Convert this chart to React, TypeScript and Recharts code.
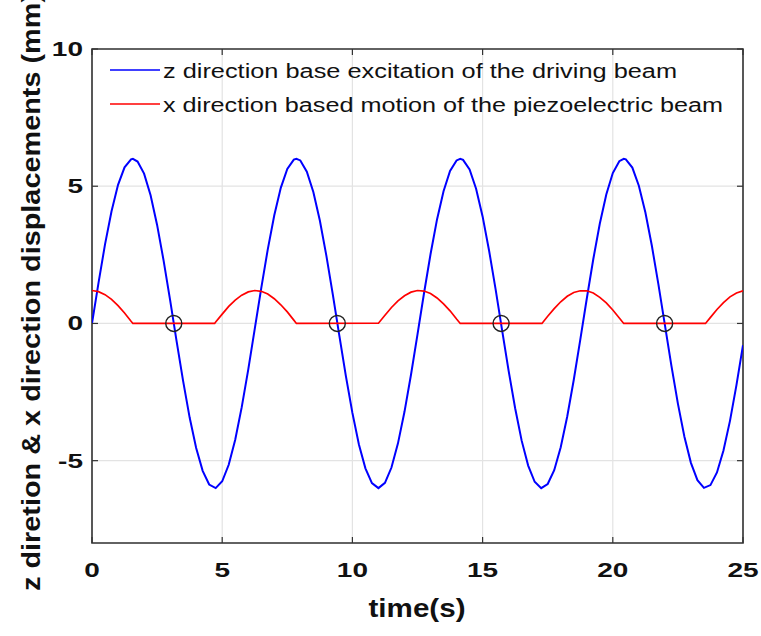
import React from 'react';
import { ComposedChart, Line, Scatter, XAxis, YAxis, CartesianGrid, ReferenceArea } from 'recharts';

const blueTime = [0, 0.25, 0.5, 0.75, 1, 1.25, 1.5, 1.57, 1.75, 2, 2.25, 2.5, 2.75, 3, 3.25, 3.5, 3.75, 4, 4.25, 4.5, 4.75, 5, 5.25, 5.5, 5.75, 6, 6.25, 6.5, 6.75, 7, 7.25, 7.5, 7.75, 7.85, 8, 8.25, 8.5, 8.75, 9, 9.25, 9.5, 9.75, 10, 10.25, 10.5, 10.75, 11, 11.25, 11.5, 11.75, 12, 12.25, 12.5, 12.75, 13, 13.25, 13.5, 13.75, 14, 14.14, 14.25, 14.5, 14.75, 15, 15.25, 15.5, 15.75, 16, 16.25, 16.5, 16.75, 17, 17.25, 17.5, 17.75, 18, 18.25, 18.5, 18.75, 19, 19.25, 19.5, 19.75, 20, 20.25, 20.42, 20.5, 20.75, 21, 21.25, 21.5, 21.75, 22, 22.25, 22.5, 22.75, 23, 23.25, 23.5, 23.75, 24, 24.25, 24.5, 24.75, 25];
const blueValues = [0, 1.48, 2.88, 4.09, 5.05, 5.69, 5.98, 6.0, 5.9, 5.46, 4.67, 3.59, 2.29, 0.85, -0.65, -2.1, -3.43, -4.54, -5.37, -5.87, -6.0, -5.75, -5.15, -4.24, -3.05, -1.68, -0.2, 1.29, 2.7, 3.94, 4.94, 5.63, 5.97, 6.0, 5.94, 5.53, 4.79, 3.75, 2.47, 1.04, -0.45, -1.92, -3.26, -4.41, -5.28, -5.82, -6.0, -5.81, -5.25, -4.37, -3.22, -1.87, -0.4, 1.1, 2.52, 3.79, 4.82, 5.56, 5.94, 6.0, 5.96, 5.61, 4.91, 3.9, 2.65, 1.24, -0.25, -1.73, -3.09, -4.27, -5.18, -5.77, -6.0, -5.85, -5.35, -4.51, -3.39, -2.06, -0.6, 0.9, 2.34, 3.63, 4.7, 5.48, 5.91, 6.0, 5.98, 5.68, 5.02, 4.05, 2.83, 1.43, -0.05, -1.54, -2.92, -4.13, -5.08, -5.71, -5.99, -5.89, -5.43, -4.63, -3.55, -2.24, -0.79];

const redTime = [0, 0.25, 0.5, 0.75, 1, 1.25, 1.5, 1.57, 4.71, 4.75, 5, 5.25, 5.5, 5.75, 6, 6.25, 6.5, 6.75, 7, 7.25, 7.5, 7.75, 7.85, 11, 11.25, 11.5, 11.75, 12, 12.25, 12.5, 12.75, 13, 13.25, 13.5, 13.75, 14, 14.14, 17.28, 17.5, 17.75, 18, 18.25, 18.5, 18.75, 19, 19.25, 19.5, 19.75, 20, 20.25, 20.42, 23.56, 23.75, 24, 24.25, 24.5, 24.75, 25];
const redValues = [1.2, 1.16, 1.05, 0.88, 0.65, 0.38, 0.08, 0, 0, 0.05, 0.34, 0.62, 0.85, 1.03, 1.15, 1.2, 1.17, 1.07, 0.9, 0.68, 0.42, 0.12, 0, 0.01, 0.3, 0.58, 0.82, 1.01, 1.14, 1.2, 1.18, 1.09, 0.93, 0.71, 0.46, 0.16, 0, 0, 0.26, 0.54, 0.79, 0.99, 1.13, 1.19, 1.19, 1.11, 0.95, 0.75, 0.49, 0.2, 0, 0, 0.22, 0.51, 0.76, 0.97, 1.11, 1.19];

const markerTime = [3.14, 9.42, 15.71, 21.99];
const markerValues = [0, 0, 0, 0];

const xTicks = [0, 5, 10, 15, 20, 25];
const yTicks = [-5, 0, 5, 10];
const seriesNames = [
  'z direction base excitation of the driving beam',
  'x direction based motion of the piezoelectric beam',
];
const seriesColors = ['#0000ff', '#ff0000'];
const xLabel = 'time(s)';
const yLabel = 'z diretion & x direction displacements (mm)';

const blueData = blueTime.map((t, i) => ({ t, v: blueValues[i] }));
const redData = redTime.map((t, i) => ({ t, v: redValues[i] }));
const markerData = markerTime.map((t, i) => ({ t, v: markerValues[i] }));

const W = 761;
const H = 636;
const MARGIN = { top: 49, right: 18, left: 0, bottom: 0 };
const YW = 92;
const XH = 93;
const PLOT_W = W - MARGIN.left - MARGIN.right - YW;
const PLOT_H = H - MARGIN.top - MARGIN.bottom - XH;
const FONT = '"Liberation Sans", Arial, sans-serif';
const FRAME = '#333333';

const XTick = (props: any) => {
  const { x, y, payload } = props;
  return (
    <g>
      <line x1={x} x2={x} y1={y} y2={y - 6} stroke={FRAME} strokeWidth={1.2} />
      <line x1={x} x2={x} y1={y - PLOT_H} y2={y - PLOT_H + 6} stroke={FRAME} strokeWidth={1.2} />
      <text
        transform={`translate(${x},${y + 34}) scale(1.4,1)`}
        textAnchor="middle"
        fontFamily={FONT}
        fontWeight="bold"
        fontSize={20}
        fill="#111"
      >
        {payload.value}
      </text>
    </g>
  );
};

const YTick = (props: any) => {
  const { x, y, payload } = props;
  return (
    <g>
      <line x1={x} x2={x + 6} y1={y} y2={y} stroke={FRAME} strokeWidth={1.2} />
      <line x1={x + PLOT_W} x2={x + PLOT_W - 6} y1={y} y2={y} stroke={FRAME} strokeWidth={1.2} />
      <text
        transform={`translate(${x - 9},${y + 7}) scale(1.4,1)`}
        textAnchor="end"
        fontFamily={FONT}
        fontWeight="bold"
        fontSize={20}
        fill="#111"
      >
        {payload.value}
      </text>
    </g>
  );
};

const Marker = (props: any) => {
  const { cx, cy } = props;
  return <circle cx={cx} cy={cy} r={8} fill="none" stroke="#222" strokeWidth={1.4} />;
};

export default function App() {
  return (
    <div style={{ position: 'absolute', left: 0, top: 0, width: W, height: H, background: '#fff' }}>
      <ComposedChart width={W} height={H} margin={MARGIN}>
        <CartesianGrid stroke="#e3e3e3" strokeWidth={1.2} />
        <XAxis
          dataKey="t"
          type="number"
          domain={[0, 25]}
          ticks={xTicks}
          allowDataOverflow
          height={XH}
          axisLine={false}
          tickLine={false}
          tickSize={0}
          tickMargin={0}
          tick={<XTick />}
          interval={0}
        />
        <YAxis
          type="number"
          domain={[-8, 10]}
          ticks={yTicks}
          allowDataOverflow
          width={YW}
          axisLine={false}
          tickLine={false}
          tickSize={0}
          tickMargin={0}
          tick={<YTick />}
          interval={0}
        />
        <Line
          data={blueData}
          dataKey="v"
          name={seriesNames[0]}
          type="linear"
          stroke={seriesColors[0]}
          strokeWidth={2}
          dot={false}
          isAnimationActive={false}
        />
        <Line
          data={redData}
          dataKey="v"
          name={seriesNames[1]}
          type="linear"
          stroke={seriesColors[1]}
          strokeWidth={1.7}
          dot={false}
          isAnimationActive={false}
        />
        <Scatter data={markerData} dataKey="v" shape={<Marker />} isAnimationActive={false} />
        <ReferenceArea
          x1={0}
          x2={25}
          y1={-8}
          y2={10}
          fill="none"
          fillOpacity={0}
          stroke={FRAME}
          strokeWidth={1.6}
          ifOverflow="visible"
        />
      </ComposedChart>
      <svg
        width={W}
        height={H}
        style={{ position: 'absolute', left: 0, top: 0, pointerEvents: 'none' }}
      >
        {seriesNames.map((name, i) => (
          <g key={name}>
            <line x1={110} x2={160} y1={70 + i * 34} y2={70 + i * 34} stroke={seriesColors[i]} strokeWidth={1.6} />
            <text
              x={163}
              y={78 + i * 34}
              fontFamily={FONT}
              fontSize={20}
              fill="#111"
              textLength={i === 0 ? 514 : 560}
              lengthAdjust="spacingAndGlyphs"
            >
              {name}
            </text>
          </g>
        ))}
        <text
          x={417}
          y={617}
          textAnchor="middle"
          fontFamily={FONT}
          fontWeight="bold"
          fontSize={25}
          fill="#111"
          textLength={97}
          lengthAdjust="spacingAndGlyphs"
        >
          {xLabel}
        </text>
        <text
          transform="translate(40,292) rotate(-90)"
          textAnchor="middle"
          fontFamily={FONT}
          fontWeight="bold"
          fontSize={26}
          fill="#111"
          textLength={598}
          lengthAdjust="spacingAndGlyphs"
        >
          {yLabel}
        </text>
      </svg>
    </div>
  );
}
